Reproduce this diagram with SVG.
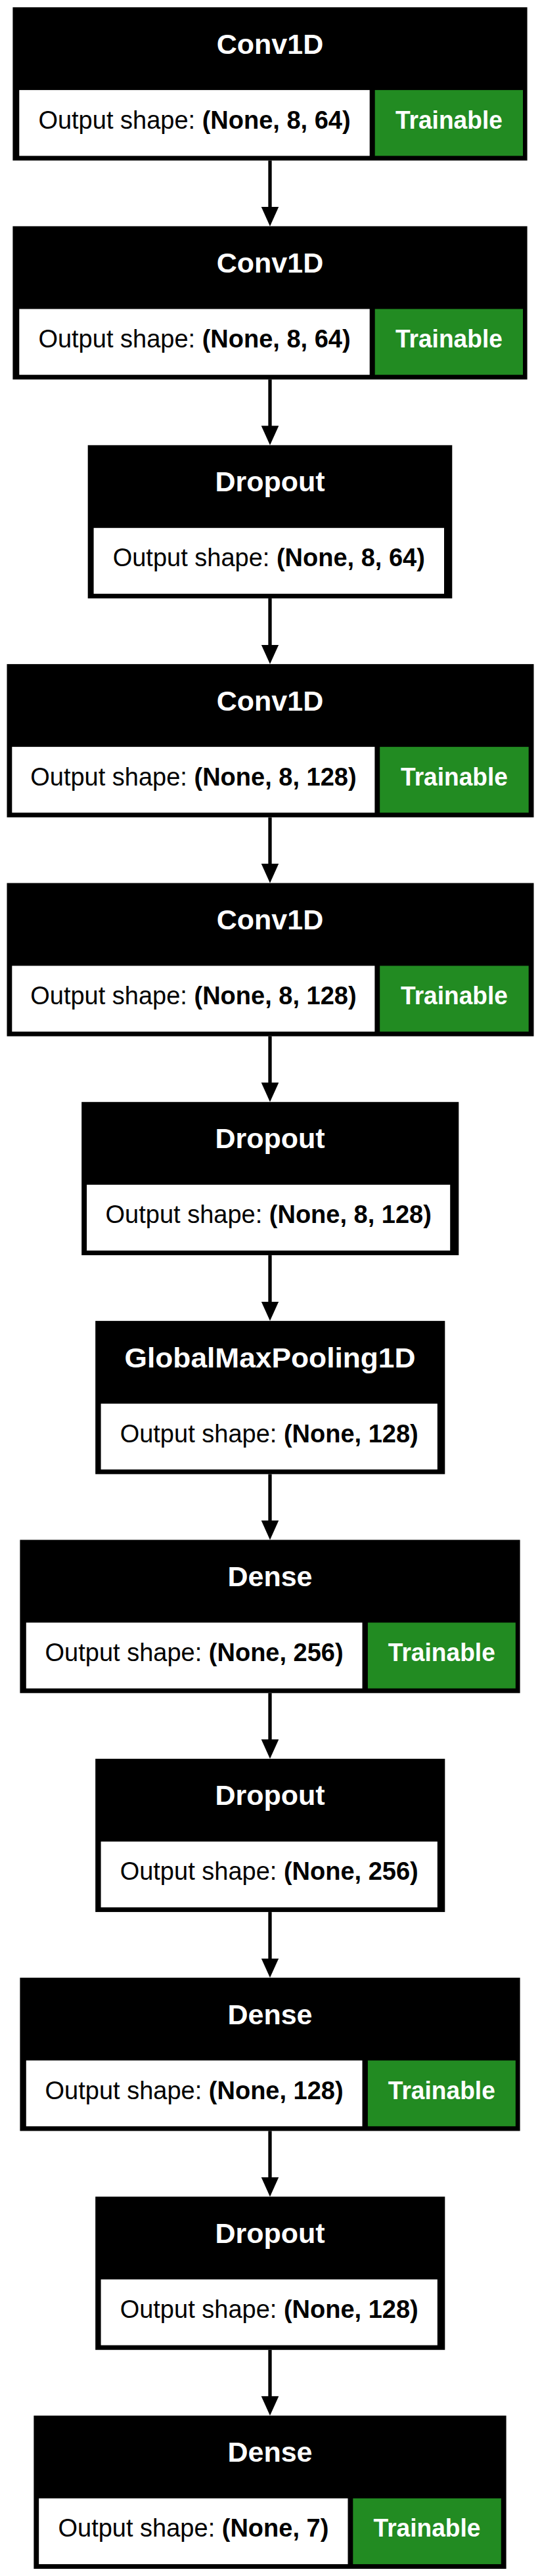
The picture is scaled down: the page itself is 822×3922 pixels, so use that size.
<svg xmlns="http://www.w3.org/2000/svg" width="822" height="3922" viewBox="0 0 822 3922">
<style>
.box{fill:#000;}
.cell{fill:#fff;}
.tr{fill:#228B22;}
.title{font-family:"Liberation Sans",Arial,sans-serif;font-weight:bold;font-size:43px;fill:#fff;text-anchor:middle;}
.row{font-family:"Liberation Sans",Arial,sans-serif;font-size:38px;fill:#000;text-anchor:middle;}
.row tspan{font-weight:bold;}
.trt{font-family:"Liberation Sans",Arial,sans-serif;font-weight:bold;font-size:38px;fill:#fff;text-anchor:middle;}
.edge{stroke:#000;stroke-width:5.3;fill:none;marker-end:url(#ah);}
</style>
<defs>
<marker id="ah" markerUnits="userSpaceOnUse" orient="auto" markerWidth="30" markerHeight="27" refX="1.5" refY="13.3" viewBox="0 0 30 27">
<path d="M0,0 L29.5,13.3 L0,26.6 z" fill="#000"/>
</marker>
</defs>
<rect x="0" y="0" width="822" height="3922" fill="#fff"/>

<g id="edges">
<line class="edge" x1="411" y1="244.4" x2="411" y2="316.4"/>
<line class="edge" x1="411" y1="577.7" x2="411" y2="649.8"/>
<line class="edge" x1="411" y1="911.1" x2="411" y2="983.1"/>
<line class="edge" x1="411" y1="1244.4" x2="411" y2="1316.4"/>
<line class="edge" x1="411" y1="1577.7" x2="411" y2="1649.8"/>
<line class="edge" x1="411" y1="1911.1" x2="411" y2="1983.1"/>
<line class="edge" x1="411" y1="2244.4" x2="411" y2="2316.4"/>
<line class="edge" x1="411" y1="2577.7" x2="411" y2="2649.8"/>
<line class="edge" x1="411" y1="2911.1" x2="411" y2="2983.1"/>
<line class="edge" x1="411" y1="3244.4" x2="411" y2="3316.4"/>
<line class="edge" x1="411" y1="3577.7" x2="411" y2="3649.8"/>
</g>

<g id="node0" transform="translate(0,11.11)">
<rect class="box" x="19.4" y="0" width="783.2" height="233.3"/>
<rect class="cell" x="29.3" y="126" width="533.4" height="100.2"/>
<rect class="tr" x="570.7" y="126" width="225.3" height="100.2"/>
<text class="title" x="411" y="70.6">Conv1D</text>
<text class="row" x="296" y="184.5">Output shape: <tspan>(None, 8, 64)</tspan></text>
<text class="trt" x="683.4" y="184.5" textLength="163" lengthAdjust="spacingAndGlyphs">Trainable</text>
</g>

<g id="node1" transform="translate(0,344.44)">
<rect class="box" x="19.4" y="0" width="783.2" height="233.3"/>
<rect class="cell" x="29.3" y="126" width="533.4" height="100.2"/>
<rect class="tr" x="570.7" y="126" width="225.3" height="100.2"/>
<text class="title" x="411" y="70.6">Conv1D</text>
<text class="row" x="296" y="184.5">Output shape: <tspan>(None, 8, 64)</tspan></text>
<text class="trt" x="683.4" y="184.5" textLength="163" lengthAdjust="spacingAndGlyphs">Trainable</text>
</g>

<g id="node2" transform="translate(0,677.78)">
<rect class="box" x="133.7" y="0" width="554.6" height="233.3"/>
<rect class="cell" x="142.6" y="126" width="533.4" height="100.2"/>
<text class="title" x="411" y="70.6">Dropout</text>
<text class="row" x="409.3" y="184.5">Output shape: <tspan>(None, 8, 64)</tspan></text>
</g>

<g id="node3" transform="translate(0,1011.11)">
<rect class="box" x="10.5" y="0" width="802" height="233.3"/>
<rect class="cell" x="18.3" y="126" width="552.1" height="100.2"/>
<rect class="tr" x="578.2" y="126" width="226.5" height="100.2"/>
<text class="title" x="411" y="70.6">Conv1D</text>
<text class="row" x="294.4" y="184.5">Output shape: <tspan>(None, 8, 128)</tspan></text>
<text class="trt" x="691.5" y="184.5" textLength="163" lengthAdjust="spacingAndGlyphs">Trainable</text>
</g>

<g id="node4" transform="translate(0,1344.44)">
<rect class="box" x="10.5" y="0" width="802" height="233.3"/>
<rect class="cell" x="18.3" y="126" width="552.1" height="100.2"/>
<rect class="tr" x="578.2" y="126" width="226.5" height="100.2"/>
<text class="title" x="411" y="70.6">Conv1D</text>
<text class="row" x="294.4" y="184.5">Output shape: <tspan>(None, 8, 128)</tspan></text>
<text class="trt" x="691.5" y="184.5" textLength="163" lengthAdjust="spacingAndGlyphs">Trainable</text>
</g>

<g id="node5" transform="translate(0,1677.78)">
<rect class="box" x="124.2" y="0" width="574.1" height="233.3"/>
<rect class="cell" x="132.1" y="126" width="553.1" height="100.2"/>
<text class="title" x="411" y="70.6">Dropout</text>
<text class="row" x="408.7" y="184.5">Output shape: <tspan>(None, 8, 128)</tspan></text>
</g>

<g id="node6" transform="translate(0,2011.11)">
<rect class="box" x="145.2" y="0" width="532.1" height="233.3"/>
<rect class="cell" x="153.6" y="126" width="512.2" height="100.2"/>
<text class="title" x="411" y="70.6" textLength="443" lengthAdjust="spacingAndGlyphs">GlobalMaxPooling1D</text>
<text class="row" x="409.7" y="184.5">Output shape: <tspan>(None, 128)</tspan></text>
</g>

<g id="node7" transform="translate(0,2344.44)">
<rect class="box" x="30.4" y="0" width="761.2" height="233.3"/>
<rect class="cell" x="39.8" y="126" width="511.7" height="100.2"/>
<rect class="tr" x="559.9" y="126" width="224.9" height="100.2"/>
<text class="title" x="411" y="70.6">Dense</text>
<text class="row" x="295.6" y="184.5">Output shape: <tspan>(None, 256)</tspan></text>
<text class="trt" x="672.3" y="184.5" textLength="163" lengthAdjust="spacingAndGlyphs">Trainable</text>
</g>

<g id="node8" transform="translate(0,2677.78)">
<rect class="box" x="145.2" y="0" width="532.1" height="233.3"/>
<rect class="cell" x="153.6" y="126" width="512.2" height="100.2"/>
<text class="title" x="411" y="70.6">Dropout</text>
<text class="row" x="409.7" y="184.5">Output shape: <tspan>(None, 256)</tspan></text>
</g>

<g id="node9" transform="translate(0,3011.11)">
<rect class="box" x="30.4" y="0" width="761.2" height="233.3"/>
<rect class="cell" x="39.8" y="126" width="511.7" height="100.2"/>
<rect class="tr" x="559.9" y="126" width="224.9" height="100.2"/>
<text class="title" x="411" y="70.6">Dense</text>
<text class="row" x="295.6" y="184.5">Output shape: <tspan>(None, 128)</tspan></text>
<text class="trt" x="672.3" y="184.5" textLength="163" lengthAdjust="spacingAndGlyphs">Trainable</text>
</g>

<g id="node10" transform="translate(0,3344.44)">
<rect class="box" x="145.2" y="0" width="532.1" height="233.3"/>
<rect class="cell" x="153.6" y="126" width="512.2" height="100.2"/>
<text class="title" x="411" y="70.6">Dropout</text>
<text class="row" x="409.7" y="184.5">Output shape: <tspan>(None, 128)</tspan></text>
</g>

<g id="node11" transform="translate(0,3677.78)">
<rect class="box" x="51.4" y="0" width="719.2" height="233.3"/>
<rect class="cell" x="59.2" y="126" width="470.3" height="100.2"/>
<rect class="tr" x="537.3" y="126" width="225.5" height="100.2"/>
<text class="title" x="411" y="70.6">Dense</text>
<text class="row" x="294.4" y="184.5">Output shape: <tspan>(None, 7)</tspan></text>
<text class="trt" x="650" y="184.5" textLength="163" lengthAdjust="spacingAndGlyphs">Trainable</text>
</g>
</svg>
